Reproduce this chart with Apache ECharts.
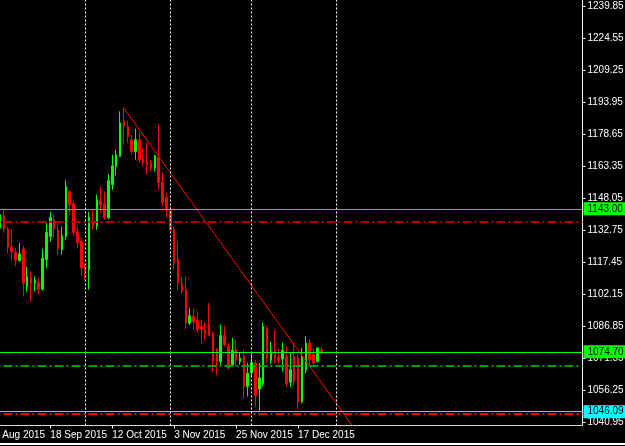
<!DOCTYPE html>
<html>
<head>
<meta charset="utf-8">
<script src="https://cdn.jsdelivr.net/npm/echarts@6/dist/echarts.min.js"></script>
<style>
html,body{margin:0;padding:0;background:#000;overflow:hidden;}
#chart{width:625px;height:446px;}
</style>
</head>
<body>
<div id="chart"></div>
<script>
// ---------- data ----------
const leadDates = ['2015-08-27','2015-08-28','2015-08-31'];
const barDates = [
 '2015-09-01','2015-09-02','2015-09-03','2015-09-04','2015-09-07','2015-09-08','2015-09-09','2015-09-10','2015-09-11',
 '2015-09-14','2015-09-15','2015-09-16','2015-09-17','2015-09-18','2015-09-21','2015-09-22','2015-09-23','2015-09-24',
 '2015-09-25','2015-09-28','2015-09-29','2015-09-30',
 '2015-10-01','2015-10-02','2015-10-05','2015-10-06','2015-10-07','2015-10-08','2015-10-09','2015-10-12','2015-10-13',
 '2015-10-14','2015-10-15','2015-10-16','2015-10-19','2015-10-20','2015-10-21','2015-10-22','2015-10-23','2015-10-26',
 '2015-10-27','2015-10-28','2015-10-29','2015-10-30',
 '2015-11-02','2015-11-03','2015-11-04','2015-11-05','2015-11-06','2015-11-09','2015-11-10','2015-11-11','2015-11-12',
 '2015-11-13','2015-11-16','2015-11-17','2015-11-18','2015-11-19','2015-11-20','2015-11-23','2015-11-24','2015-11-25',
 '2015-11-26','2015-11-27','2015-11-30',
 '2015-12-01','2015-12-02','2015-12-03','2015-12-04','2015-12-07','2015-12-08','2015-12-09','2015-12-10','2015-12-11',
 '2015-12-14','2015-12-15','2015-12-16','2015-12-17','2015-12-18','2015-12-21','2015-12-22','2015-12-23','2015-12-24',
 '2015-12-28'
];
const futureDates = ['2015-12-29','2015-12-30','2015-12-31','2016-01-04','2016-01-05','2016-01-06','2016-01-07','2016-01-08'];

const opens = [
 1133.9,1139.7,1133.3,1124.7,1122.1,1118.3,1123.8,1105.9,1110.4,1107.5,1107.9,1104.6,1118.6,1129.8,1137.7,1133.0,1123.4,1129.8,
 1151.3,1145.4,1132.0,1127.4,
 1115.4,1113.5,1136.9,1134.9,1146.8,1145.4,1138.7,1154.5,1163.2,1168.0,1185.0,1182.3,1176.0,1170.4,1176.0,1166.9,1165.6,1165.0,
 1162.6,1167.4,1155.6,1148.3,
 1142.5,1133.3,1119.0,1107.5,1104.3,1088.4,1091.6,1089.7,1086.8,1085.2,1087.8,1083.6,1075.7,1070.1,1082.4,1077.2,1068.5,1075.7,
 1070.0,1072.5,1058.1,
 1064.8,1069.4,1056.9,1059.6,1086.0,1070.8,1075.7,1072.0,1071.2,1072.5,1060.2,1072.5,1071.7,1050.9,1066.1,1078.9,1073.3,1070.1,
 1075.7
];
const closes = [
 1140.1,1133.4,1124.7,1122.6,1118.4,1121.5,1107.5,1110.7,1107.2,1108.8,1104.6,1119.5,1131.7,1138.8,1133.3,1123.8,1130.1,1153.6,
 1144.9,1131.7,1127.0,1114.7,
 1113.1,1139.0,1134.9,1147.3,1144.9,1138.7,1156.4,1163.5,1168.8,1184.0,1182.6,1177.5,1170.4,1176.0,1166.4,1165.1,1164.0,1162.6,
 1168.3,1155.6,1145.9,1142.5,
 1133.0,1117.4,1107.5,1103.5,1088.4,1091.9,1089.2,1085.5,1085.2,1083.3,1082.5,1070.1,1070.1,1082.4,1078.0,1066.9,1075.3,1070.6,
 1071.6,1058.1,1064.5,
 1069.5,1053.7,1062.2,1086.8,1071.7,1074.7,1071.7,1070.6,1075.3,1059.6,1066.1,1060.5,1050.9,1072.5,1078.9,1070.8,1069.4,1076.5,
 1074.7
];
const lows = [
 1131.0,1131.5,1121.8,1118.5,1115.6,1117.8,1101.1,1103.5,1098.8,1103.5,1102.4,1103.9,1114.7,1127.4,1129.0,1121.0,1121.0,1128.0,
 1140.1,1129.8,1124.3,1111.0,
 1109.0,1104.3,1133.0,1133.0,1141.1,1137.7,1138.2,1152.1,1159.0,1167.8,1173.6,1174.5,1168.8,1166.4,1165.0,1163.2,1159.2,1160.8,
 1160.8,1152.1,1144.1,1138.7,
 1132.2,1113.9,1104.3,1102.4,1085.5,1087.6,1085.2,1083.9,1078.5,1080.1,1082.0,1065.3,1063.7,1068.5,1077.1,1066.1,1068.0,1067.7,
 1068.5,1052.3,1053.4,
 1062.3,1048.6,1046.1,1058.1,1069.4,1068.9,1069.4,1068.9,1065.3,1058.1,1057.8,1058.9,1047.3,1050.1,1064.5,1067.7,1068.5,1069.6,
 1073.3
];
const highs = [
 1141.5,1142.5,1134.5,1133.3,1124.1,1126.6,1125.3,1115.2,1113.1,1110.7,1109.9,1123.8,1136.2,1141.7,1140.1,1135.4,1134.5,1156.8,
 1151.7,1146.5,1134.5,1129.0,
 1117.0,1141.5,1142.5,1149.7,1153.6,1151.3,1159.7,1168.8,1171.2,1189.5,1191.1,1185.0,1178.3,1181.2,1179.3,1172.1,1174.7,1166.4,
 1168.8,1183.1,1160.2,1150.6,
 1144.1,1134.5,1127.4,1110.4,1110.4,1095.6,1095.1,1093.5,1090.0,1088.7,1098.0,1084.4,1076.6,1087.6,1087.1,1079.0,1081.4,1080.4,
 1074.4,1075.7,1069.5,
 1074.4,1071.0,1069.4,1088.7,1087.1,1079.5,1085.2,1076.5,1079.1,1077.3,1074.1,1078.9,1073.3,1076.5,1082.0,1080.8,1076.2,1077.0,
 1077.0
];

const yTicks = [1040.95,1056.25,1071.55,1086.85,1102.15,1117.45,1132.75,1148.05,1163.35,1178.65,1193.95,1209.25,1224.55,1239.85];
const xLabelDates = ['2015-08-27','2015-09-18','2015-10-12','2015-11-03','2015-11-25','2015-12-17'];
const separatorDates = ['2015-10-01','2015-11-02','2015-12-01','2016-01-04'];
const trendStart = ['2015-10-15', 1191.1];
const trendEnd = ['2016-01-08', 1039.5];
const solidLevels = [1143.00, 1074.70];
const cyanLevel = 1046.09;
const redDashLevels = [1136.8, 1045.1];
const greenDashLevel = 1068.0;

// ---------- chart ----------
const TOTAL_SLOTS = 154;
const categories = leadDates.concat(barDates, futureDates);
while (categories.length < TOTAL_SLOTS) categories.push('slot' + categories.length);

const MONTHS = ['Jan','Feb','Mar','Apr','May','Jun','Jul','Aug','Sep','Oct','Nov','Dec'];
function fmtDate(s){
  const p = s.split('-');
  return parseInt(p[2],10) + ' ' + MONTHS[parseInt(p[1],10)-1] + ' ' + p[0];
}
const FONT = '"Liberation Sans",Arial,sans-serif';
const FS = 9.5;

const candleData = barDates.map((d,i)=>[d, opens[i], closes[i], lows[i], highs[i]]);

const dashDot = [9,3,2,3];
const markData = [];
separatorDates.forEach(d => markData.push({xAxis:d, lineStyle:{color:'#FFFFFF', type:[2,2], width:1}, label:{show:false}}));
markData.push({yAxis:redDashLevels[0], lineStyle:{color:'#B00000', type:dashDot, width:2}, label:{show:false}});
markData.push({yAxis:redDashLevels[1], lineStyle:{color:'#FF0000', type:dashDot, width:2}, label:{show:false}});
markData.push({yAxis:greenDashLevel, lineStyle:{color:'#00A000', type:dashDot, width:2}, label:{show:false}});
const boxLabel = (txt, bg) => ({show:true, position:'end', distance:1, formatter:txt, color:'#000', backgroundColor:bg,
         padding:[2,4,1,4], fontFamily:FONT, fontSize:FS + 0.5});
solidLevels.forEach(v => markData.push({yAxis:v, lineStyle:{color:'#00FF00', type:'solid', width:1}, label:boxLabel(v.toFixed(2), '#00FF00')}));
markData.push({yAxis:cyanLevel, lineStyle:{color:'#00FFFF', type:'solid', width:1}, label:boxLabel(cyanLevel.toFixed(2), '#00FFFF')});

const chart = echarts.init(document.getElementById('chart'), null, {renderer:'canvas'});
chart.setOption({
  backgroundColor:'#000000',
  animation:false,
  grid:{left:-13.5, right:42.5, top:0, bottom:20.5, containLabel:false, outerBoundsMode:'none'},
  xAxis:{
    type:'category', data:categories, boundaryGap:true,
    axisLine:{show:true, lineStyle:{color:'#D8D8D8', width:1}},
    axisTick:{show:true, alignWithLabel:true, length:3, interval:(i,v)=>xLabelDates.includes(v), lineStyle:{color:'#FFFFFF'}},
    axisLabel:{interval:(i,v)=>xLabelDates.includes(v), formatter:fmtDate, align:'left', color:'#FFFFFF',
               margin:5, fontFamily:FONT, fontSize:FS + 0.5, hideOverlap:false},
    splitLine:{show:false}
  },
  yAxis:{
    type:'value', position:'right', min:1039.5, max:1242.7, scale:true,
    axisLine:{show:true, lineStyle:{color:'#FFFFFF', width:1}},
    axisTick:{show:true, inside:false, length:3, customValues:yTicks, lineStyle:{color:'#FFFFFF'}},
    axisLabel:{customValues:yTicks, formatter:v=>v.toFixed(2), color:'#FFFFFF', margin:5, fontFamily:FONT, fontSize:FS + 0.5,
               hideOverlap:false},
    splitLine:{show:false}
  },
  graphic:[{type:'rect', left:0, top:443, silent:true, shape:{width:625, height:2}, style:{fill:'#FFFFFF'}}],
  series:[
    {
      type:'candlestick', data:candleData, encode:{x:0, y:[1,2,3,4]},
      barWidth:2,
      itemStyle:{color:'#00FF00', color0:'#FF0000', borderColor:'#00FF00', borderColor0:'#FF0000', borderWidth:1},
      markLine:{silent:true, symbol:['none','none'], animation:false, data:markData}
    },
    {
      type:'line', data:[trendStart, trendEnd], symbol:'none', clip:true, silent:true,
      lineStyle:{color:'#FF0000', width:1}
    }
  ]
});
</script>
</body>
</html>
